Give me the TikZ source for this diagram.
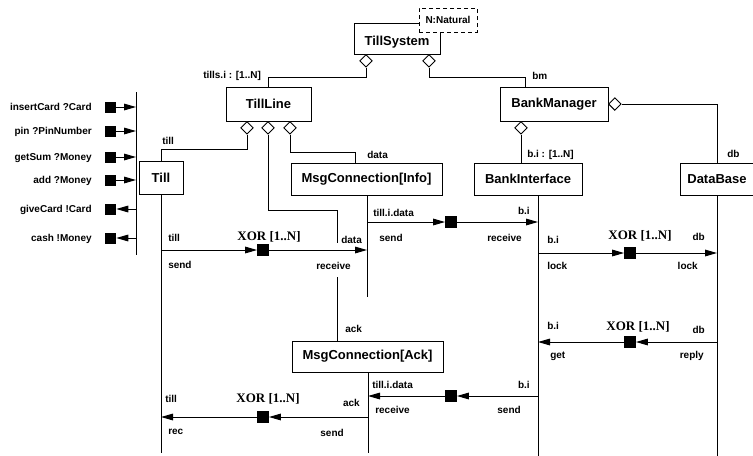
\documentclass[tikz,border=0pt]{standalone}
\usepackage{fontspec}
\setmainfont{Liberation Sans}
\newfontfamily\xorfont{Liberation Serif}
\usetikzlibrary{arrows.meta,shapes.geometric,calc}

\tikzset{
  box/.style={draw, fill=white, line width=0.75pt, inner sep=0pt,
    font=\bfseries\fontsize{9.75}{11}\selectfont},
  boxtext/.style={inner sep=0pt, anchor=mid, font=\bfseries\fontsize{9.75}{11}\selectfont},
  lbl/.style={inner sep=0pt, font=\bfseries\fontsize{7.5}{9}\selectfont},
  xorlbl/.style={inner sep=0pt, anchor=mid, font=\xorfont\bfseries\fontsize{9.75}{11}\selectfont},
  agg/.style={diamond, draw, fill=white, inner sep=0pt, line width=0.75pt,
    minimum width=9.5pt, minimum height=9.5pt},
  gate/.style={rectangle, fill=black, inner sep=0pt, minimum size=8.5pt},
  portsq/.style={rectangle, fill=black, inner sep=0pt, minimum size=8.25pt},
  conn/.style={line width=0.75pt},
  msg/.style={conn, -{Triangle[length=9pt,width=5pt]}},
}

\begin{document}
\begin{tikzpicture}[x=0.75pt,y=-0.75pt]
\useasboundingbox (0,0) rectangle (753,455);

% ---------- structure ----------
\node[box, minimum width=64.5pt, minimum height=23.25pt] (sys) at (397,38.5) {};
\node[boxtext] (systxt) at (397,42) {TillSystem};
\node[box, dash pattern=on 3pt off 2.25pt, minimum width=43.5pt, minimum height=18pt,
      font=\bfseries\fontsize{7.5}{9}\selectfont] (nat) at (448,20) {N:Natural};
\node[agg, anchor=north] (s1) at (366,54) {};
\node[agg, anchor=north] (s2) at (429,54) {};

\node[box, minimum width=63.75pt, minimum height=25.5pt] (tl) at (268.5,104) {TillLine};
\node[box, minimum width=81pt, minimum height=25.5pt] (bm) at (554,104) {BankManager};
\node[agg, anchor=north] (t1) at (247,121) {};
\node[agg, anchor=north] (t2) at (268,121) {};
\node[agg, anchor=north] (t3) at (290,121) {};
\node[agg, anchor=north] (b1) at (521,121) {};
\node[agg, anchor=west] (b2) at (608,104) {};

\node[box, minimum width=33pt, minimum height=24.75pt] (till) at (161,177.5) {Till};
\node[box, minimum width=113.25pt, minimum height=24pt] (info) at (366.5,179) {MsgConnection[Info]};
\node[box, minimum width=81pt, minimum height=24pt] (bi) at (528,179) {BankInterface};
\node[box, minimum width=55.5pt, minimum height=24pt] (db) at (717,179) {DataBase};
\node[box, minimum width=113.25pt, minimum height=23.25pt] (ack) at (367.5,356.5) {MsgConnection[Ack]};

% aggregation links
\draw[conn] (s1.south) -- ++(0,10) -| (tl.north);
\draw[conn] (s2.south) -- ++(0,10) -| ($(bm.north west)+(26,0)$);
\draw[conn] (t1.south) -- ++(0,15.3) -| (till.north);
\draw[conn] (t3.south) -- ++(0,18.3) -| ($(info.north west)+(65,0)$);
\coordinate (tdata) at (337,243);
\draw[conn] (t2.south) -- ++(0,76.3) -| (tdata);
\coordinate (ackup) at (337,277);
\draw[conn] (ackup) -- (ack.north -| ackup);
\draw[conn] (b1.south) -- (b1.south |- bi.north);
\draw[conn] (b2.east) -| (db.north);

\node[lbl, anchor=mid west] (ltills) at (203,75) {tills.i : [1..N]};
\node[lbl, anchor=mid west] (lbm) at (532,76) {bm};
\node[lbl, anchor=mid west] (ltill) at (162,141) {till};
\node[lbl, anchor=mid west] (ldata) at (367,155) {data};
\node[lbl, anchor=mid west] (lbi) at (527,154) {b.i : [1..N]};
\node[lbl, anchor=mid west] (ldb) at (727,154) {db};
\node[lbl, anchor=mid west] (lack) at (345,329) {ack};

% ---------- lifelines ----------
\coordinate (tillEnd) at (161,453);
\coordinate (infoEnd) at (367,297);
\coordinate (biEnd) at (538,456);
\coordinate (dbEnd) at (717,456);
\coordinate (ackEnd) at (368,453);
\draw[conn] (till.south) -- (tillEnd);
\draw[conn] (info.south -| infoEnd) -- (infoEnd);
\draw[conn] (bi.south -| biEnd) -- (biEnd);
\draw[conn] (db.south) -- (dbEnd);
\draw[conn] (ack.south -| ackEnd) -- (ackEnd);

% ---------- external ports ----------
\coordinate (barTop) at (136,92);
\coordinate (barBot) at (136,255);
\draw[conn] (barTop) -- (barBot);
\foreach \y/\name/\txt in {107/p1/{insertCard ?Card}, 131/p2/{pin ?PinNumber},
    157/p3/{getSum ?Money}, 180/p4/{add ?Money}}{
  \node[portsq] (\name) at (110.5,\y) {};
  \draw[msg] (\name.east) -- (\name.east -| barTop);
  \node[lbl, anchor=mid east] (\name l) at (92,\y) {\txt};
}
\foreach \y/\name/\txt in {209/p5/{giveCard !Card}, 238/p6/{cash !Money}}{
  \node[portsq] (\name) at (110.5,\y) {};
  \draw[msg] (\name.east -| barTop) -- (\name.east);
  \node[lbl, anchor=mid east] (\name l) at (92,\y) {\txt};
}

% ---------- messages ----------
% Till -> MsgConnection[Info]
\node[gate] (g1) at (263,250) {};
\draw[msg] (g1.west -| till) -- (g1.west);
\draw[msg] (g1.east) -- (g1.east -| infoEnd);
\node[xorlbl] (x1) at (269,237) {XOR [1..N]};
\node[lbl, anchor=mid west] (m1a) at (168,238) {till};
\node[lbl, anchor=mid west] (m1b) at (168,265) {send};
\node[lbl, anchor=mid west] (m1c) at (341,240) {data};
\node[lbl, anchor=mid west] (m1d) at (316,266) {receive};

% MsgConnection[Info] -> BankInterface
\node[gate] (g2) at (451,222) {};
\draw[msg] (g2.west -| infoEnd) -- (g2.west);
\draw[msg] (g2.east) -- (g2.east -| biEnd);
\node[lbl, anchor=mid west] (m2a) at (373,213) {till.i.data};
\node[lbl, anchor=mid west] (m2b) at (379,238) {send};
\node[lbl, anchor=mid east] (m2c) at (530,211) {b.i};
\node[lbl, anchor=mid east] (m2d) at (522,238) {receive};

% BankInterface -> DataBase (lock)
\node[gate] (g3) at (630,253) {};
\draw[msg] (g3.west -| biEnd) -- (g3.west);
\draw[msg] (g3.east) -- (g3.east -| db);
\node[xorlbl] (x3) at (640,236) {XOR [1..N]};
\node[lbl, anchor=mid west] (m3a) at (547,240) {b.i};
\node[lbl, anchor=mid west] (m3b) at (547,266) {lock};
\node[lbl, anchor=mid east] (m3c) at (705,237) {db};
\node[lbl, anchor=mid east] (m3d) at (698,266) {lock};

% DataBase -> BankInterface (reply)
\node[gate] (g4) at (630,342) {};
\draw[msg] (g4.east -| db) -- (g4.east);
\draw[msg] (g4.west) -- (g4.west -| biEnd);
\node[xorlbl] (x4) at (638,327) {XOR [1..N]};
\node[lbl, anchor=mid west] (m4a) at (547,326) {b.i};
\node[lbl, anchor=mid west] (m4b) at (550,355) {get};
\node[lbl, anchor=mid east] (m4c) at (705,330) {db};
\node[lbl, anchor=mid east] (m4d) at (704,355) {reply};

% BankInterface -> MsgConnection[Ack]
\node[gate] (g6) at (451,396) {};
\draw[msg] (g6.east -| biEnd) -- (g6.east);
\draw[msg] (g6.west) -- (g6.west -| ackEnd);
\node[lbl, anchor=mid west] (m6a) at (372,385) {till.i.data};
\node[lbl, anchor=mid west] (m6b) at (375,410) {receive};
\node[lbl, anchor=mid east] (m6c) at (530,385) {b.i};
\node[lbl, anchor=mid east] (m6d) at (521,410) {send};

% MsgConnection[Ack] -> Till
\node[gate] (g7) at (263,417) {};
\draw[msg] (g7.east -| ackEnd) -- (g7.east);
\draw[msg] (g7.west) -- (g7.west -| till);
\node[xorlbl] (x7) at (268,399) {XOR [1..N]};
\node[lbl, anchor=mid west] (m7a) at (165,399) {till};
\node[lbl, anchor=mid west] (m7b) at (168,431) {rec};
\node[lbl, anchor=mid east] (m7c) at (360,403) {ack};
\node[lbl, anchor=mid east] (m7d) at (344,433) {send};
\end{tikzpicture}
\end{document}
